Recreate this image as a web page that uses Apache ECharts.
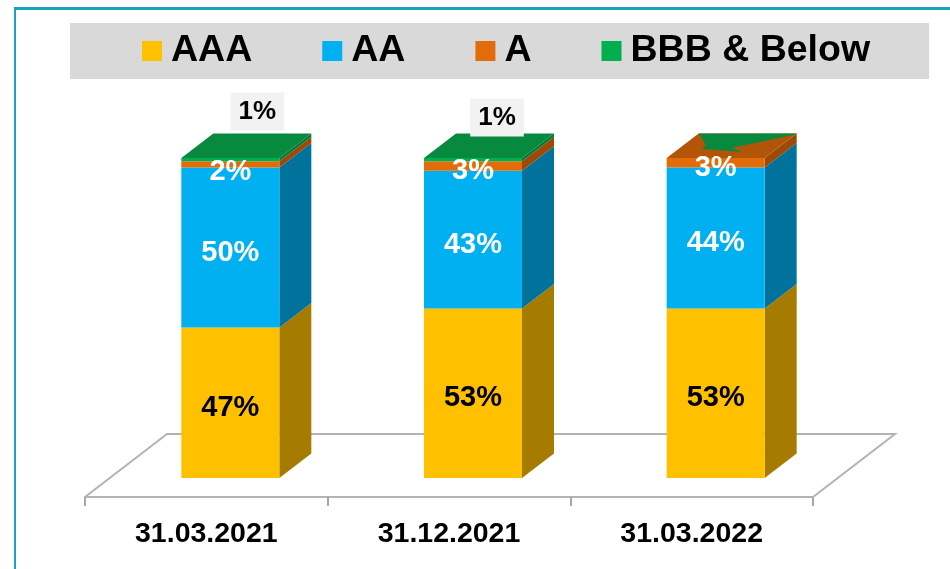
<!DOCTYPE html>
<html>
<head>
<meta charset="utf-8">
<style>html,body{margin:0;padding:0;background:#fff}#main{width:950px;height:569px}</style>
<script src="https://cdn.jsdelivr.net/npm/echarts@6/dist/echarts.min.js"></script>
</head>
<body>
<div id="main"></div>
<script>
var categories = ['31.03.2021', '31.12.2021', '31.03.2022'];
var aaa = [47, 53, 53];
var aa = [50, 43, 44];
var a = [2, 3, 3];
var bbb = [1, 1, 0];
var names = ['AAA', 'AA', 'A', 'BBB & Below'];

var values = [aaa, aa, a, bbb];
var frontColors = ['#FFC000', '#00B0F0', '#E36C0A', '#00B050'];
var sideColors = ['#A67C00', '#00729C', '#9C4A06', '#007A37'];
var labelColors = ['#000', '#fff', '#fff', '#000'];
var FONT = '"Liberation Sans", Arial, sans-serif';
var BAR_W = 98, DX = 32, DY = -24.5;

// one row per visible segment: [category, from, to, stack index]
var segments = [];
categories.forEach(function (c, i) {
    var sum = 0;
    values.forEach(function (arr, s) {
        if (arr[i] > 0) segments.push([i, sum, sum + arr[i], s]);
        sum += arr[i];
    });
});
var tops = categories.map(function (c, i) {
    var sum = 0, last = 0;
    values.forEach(function (arr, s) {
        sum += arr[i];
        if (arr[i] > 0) last = s;
    });
    return [i, sum, last];
});

function renderSide(params, api) {
    var s = api.value(3);
    var lo = api.coord([api.value(0), api.value(1)]);
    var hi = api.coord([api.value(0), api.value(2)]);
    var x = lo[0] + BAR_W / 2;
    return {
        type: 'polygon',
        shape: { points: [[x, lo[1]], [x + DX, lo[1] + DY], [x + DX, hi[1] + DY], [x, hi[1]]] },
        style: { fill: sideColors[s] }
    };
}

// u across the front edge, v back into the depth
function topPoint(p, u, v) {
    return [p[0] - BAR_W / 2 + BAR_W * u + DX * v, p[1] + DY * v];
}

function renderTop(params, api) {
    var p = api.coord([api.value(0), api.value(1)]);
    var last = api.value(2);
    var face = {
        type: 'polygon',
        shape: { points: [topPoint(p, 0, 0), topPoint(p, 0, 1), topPoint(p, 1, 1), topPoint(p, 1, 0)] },
        style: { fill: last === 3 ? '#078A3E' : '#B25508' }
    };
    if (last === 3) return face;
    // the 0% green segment still shows through the top in the original
    var patch = {
        type: 'polygon',
        shape: { points: [[0, 1], [0.225, 0.54], [0.24, 0.375], [0.69, 0.25], [0.53, 0.42], [1, 0.96], [1, 1]].map(function (q) {
            return topPoint(p, q[0], q[1]);
        }) },
        style: { fill: '#078A3E' }
    };
    return { type: 'group', children: [face, patch] };
}

function renderFloor(params) {
    var r = params.coordSys;
    var depth = 82;
    return {
        type: 'polyline',
        shape: { points: [[r.x, r.y + r.height], [r.x + depth, r.y], [r.x + r.width + depth, r.y], [r.x + r.width, r.y + r.height]] },
        style: { fill: null, stroke: '#B3B3B3', lineWidth: 2 }
    };
}

var labelOffsets = [[27, -48], [24, -42]];

var barSeries = names.map(function (name, s) {
    return {
        name: name,
        type: 'bar',
        stack: 'total',
        barWidth: BAR_W,
        xAxisIndex: 0,
        yAxisIndex: 0,
        z: 3,
        itemStyle: { color: frontColors[s] },
        data: values[s].map(function (v, i) {
            var item = { value: v };
            if (s === 3) {
                item.label = v > 0 ? {
                    show: true,
                    offset: labelOffsets[i],
                    fontSize: 26,
                    backgroundColor: '#F2F2F2',
                    padding: [6, 8]
                } : { show: false };
            }
            if (s === 2 && i === 0) item.label = { offset: [0, 8] };
            return item;
        }),
        label: {
            show: true,
            position: 'inside',
            offset: [0, 5],
            formatter: '{c}%',
            color: labelColors[s],
            fontFamily: FONT,
            fontWeight: 'bold',
            fontSize: 29
        }
    };
});

var chart = echarts.init(document.getElementById('main'), null, { renderer: 'canvas' });
chart.setOption({
    animation: false,
    backgroundColor: '#fff',
    graphic: [
        { type: 'rect', shape: { x: 14, y: 7, width: 936, height: 3 }, style: { fill: '#16A3C4' }, silent: true },
        { type: 'rect', shape: { x: 14, y: 7, width: 2, height: 562 }, style: { fill: '#16A3C4' }, silent: true }
    ],
    legend: {
        left: 70,
        top: 23,
        data: names,
        icon: 'rect',
        itemWidth: 20,
        itemHeight: 20,
        itemGap: 70,
        padding: [6, 59, 6, 72],
        backgroundColor: '#D9D9D9',
        textStyle: {
            color: '#000',
            fontFamily: FONT,
            fontWeight: 'bold',
            fontSize: 37.5,
            lineHeight: 44,
            padding: [0, 0, 0, 4]
        }
    },
    grid: [
        { left: 109, top: 158, width: 728, height: 320 },
        { left: 85, top: 434, width: 728, height: 63 }
    ],
    xAxis: [
        { type: 'category', gridIndex: 0, data: categories, show: false },
        {
            type: 'category',
            gridIndex: 1,
            data: categories,
            axisLine: { show: true, lineStyle: { color: '#B3B3B3', width: 2 } },
            axisTick: { show: true, length: 9, lineStyle: { color: '#A6A6A6', width: 2 } },
            axisLabel: { color: '#000', fontFamily: FONT, fontWeight: 'bold', fontSize: 28.5, margin: 23 }
        }
    ],
    yAxis: [
        { type: 'value', gridIndex: 0, min: 0, max: 100, show: false },
        { type: 'value', gridIndex: 1, min: 0, max: 1, show: false }
    ],
    series: [
        {
            type: 'custom',
            name: 'floor',
            xAxisIndex: 1,
            yAxisIndex: 1,
            z: 1,
            silent: true,
            renderItem: renderFloor,
            data: [[0, 0]]
        },
        {
            type: 'custom',
            name: 'side',
            xAxisIndex: 0,
            yAxisIndex: 0,
            z: 2,
            silent: true,
            encode: { x: 0, y: 2 },
            renderItem: renderSide,
            data: segments
        },
        {
            type: 'custom',
            name: 'top',
            xAxisIndex: 0,
            yAxisIndex: 0,
            z: 2,
            silent: true,
            encode: { x: 0, y: 1 },
            renderItem: renderTop,
            data: tops
        }
    ].concat(barSeries)
});

window.onresize = chart.resize;
</script>
</body>
</html>
